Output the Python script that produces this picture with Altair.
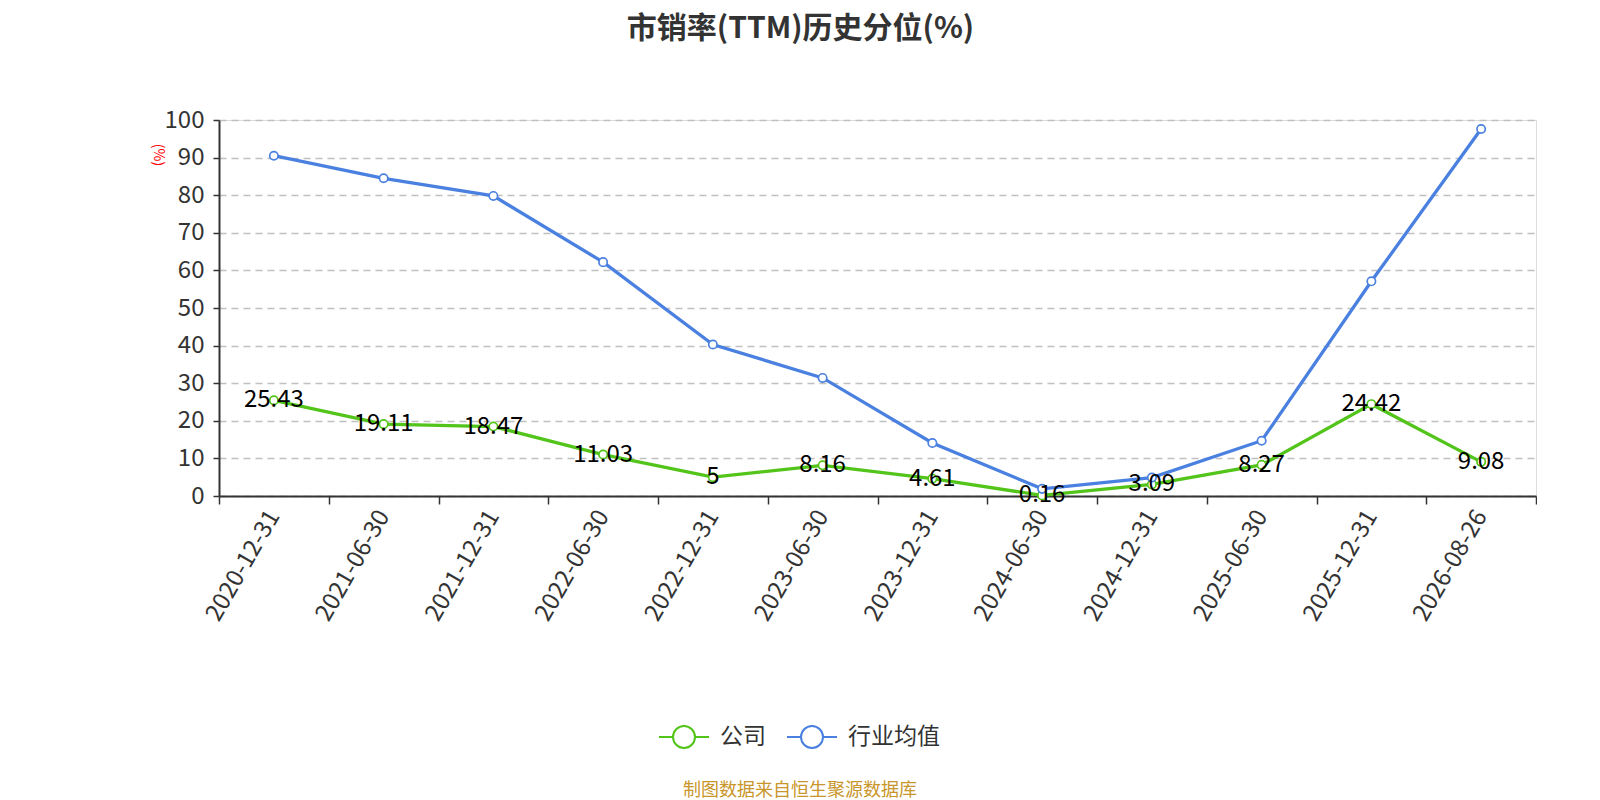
import altair as alt
import pandas as pd

dates = ["2020-12-31", "2021-06-30", "2021-12-31", "2022-06-30", "2022-12-31", "2023-06-30",
         "2023-12-31", "2024-06-30", "2024-12-31", "2025-06-30", "2025-12-31", "2026-08-26"]
company = [25.43, 19.11, 18.47, 11.03, 5, 8.16, 4.61, 0.16, 3.09, 8.27, 24.42, 9.08]
industry = [90.5, 84.5, 79.8, 62.2, 40.3, 31.4, 14.1, 1.9, 4.9, 14.7, 57.1, 97.6]
series_names = ["公司", "行业均值"]
series_colors = ["#52c41a", "#4a80e0"]

rows = []
for d, v in zip(dates, company):
    rows.append({"date": d, "series": series_names[0], "value": v})
for d, v in zip(dates, industry):
    rows.append({"date": d, "series": series_names[1], "value": v})
df = pd.DataFrame(rows)
df_company = pd.DataFrame({"date": dates, "value": company})

FONT = "Noto Sans CJK SC"

x_enc = alt.X("date:N", sort=dates, bandPosition=0.5,
              scale=alt.Scale(type="band", paddingInner=0, paddingOuter=0),
              axis=alt.Axis(title=None, labelAngle=-60, labelAlign="right", labelBaseline="middle",
                            labelFontSize=24, labelColor="#333", labelFont=FONT, labelPadding=8,
                            tickBand="extent", tickSize=8, tickColor="#333", tickWidth=1.5,
                            domainColor="#333", domainWidth=2, grid=False))
y_enc = alt.Y("value:Q", scale=alt.Scale(domain=[0, 100], nice=False),
              axis=alt.Axis(values=list(range(0, 101, 10)), title="(%)", titleAngle=90,
                            titleColor="red", titleFontSize=14, titleFont=FONT, titleFontWeight="normal",
                            titleX=-62, titleY=34.5, titleAlign="center", titleBaseline="middle",
                            labelFontSize=24, labelColor="#333", labelFont=FONT, labelPadding=9,
                            tickSize=6, tickColor="#333", tickWidth=1.5, domainColor="#333", domainWidth=2,
                            grid=True, gridDash=[7, 5], gridColor="#c0c0c0", gridWidth=1.3))

legend_path = ("M-1,0L-0.44,0M0.44,0L1,0M-0.44,0A0.44,0.44,0,1,0,0.44,0"
               "A0.44,0.44,0,1,0,-0.44,0")

lines = alt.Chart(df).mark_line(strokeWidth=3.3).encode(
    x=x_enc, y=y_enc,
    color=alt.Color("series:N", sort=series_names,
                    scale=alt.Scale(domain=series_names, range=series_colors),
                    legend=alt.Legend(title=None, orient="none", direction="horizontal",
                                      legendX=439, legendY=591,
                                      symbolType=legend_path, symbolSize=2500,
                                      symbolStrokeWidth=2, symbolFillColor="white",
                                      labelFontSize=23, labelColor="#333", labelFont=FONT,
                                      labelOffset=10, columnPadding=17)),
)

points = alt.Chart(df).mark_point(filled=True, fill="white", size=70, strokeWidth=1.7, opacity=1).encode(
    x=x_enc, y=y_enc,
    stroke=alt.Stroke("series:N", scale=alt.Scale(domain=series_names, range=series_colors), legend=None),
)

labels = alt.Chart(df_company).mark_text(fontSize=24, color="black", font=FONT,
                                         align="center", baseline="middle", dy=0).encode(
    x=x_enc, y=y_enc, text=alt.Text("value:Q"),
)

footer = alt.Chart(pd.DataFrame({"t": ["制图数据来自恒生聚源数据库"]})).mark_text(
    fontSize=18, color="#c8962a", font=FONT, align="center", baseline="middle").encode(
    x=alt.value(581), y=alt.value(671), text="t:N")

chart = alt.layer(lines, points, labels, footer).properties(
    width=1317, height=376,
    title=alt.TitleParams("市销率(TTM)历史分位(%)", anchor="middle", frame="group", dx=-77,
                          fontSize=30, fontWeight="bold", color="#333", font=FONT, offset=64),
    padding={"left": 142, "top": 6, "right": 0, "bottom": 0},
).configure_view(stroke=None).configure(font=FONT)

chart.save("out.html", embed_options={"renderer": "svg", "actions": False})
